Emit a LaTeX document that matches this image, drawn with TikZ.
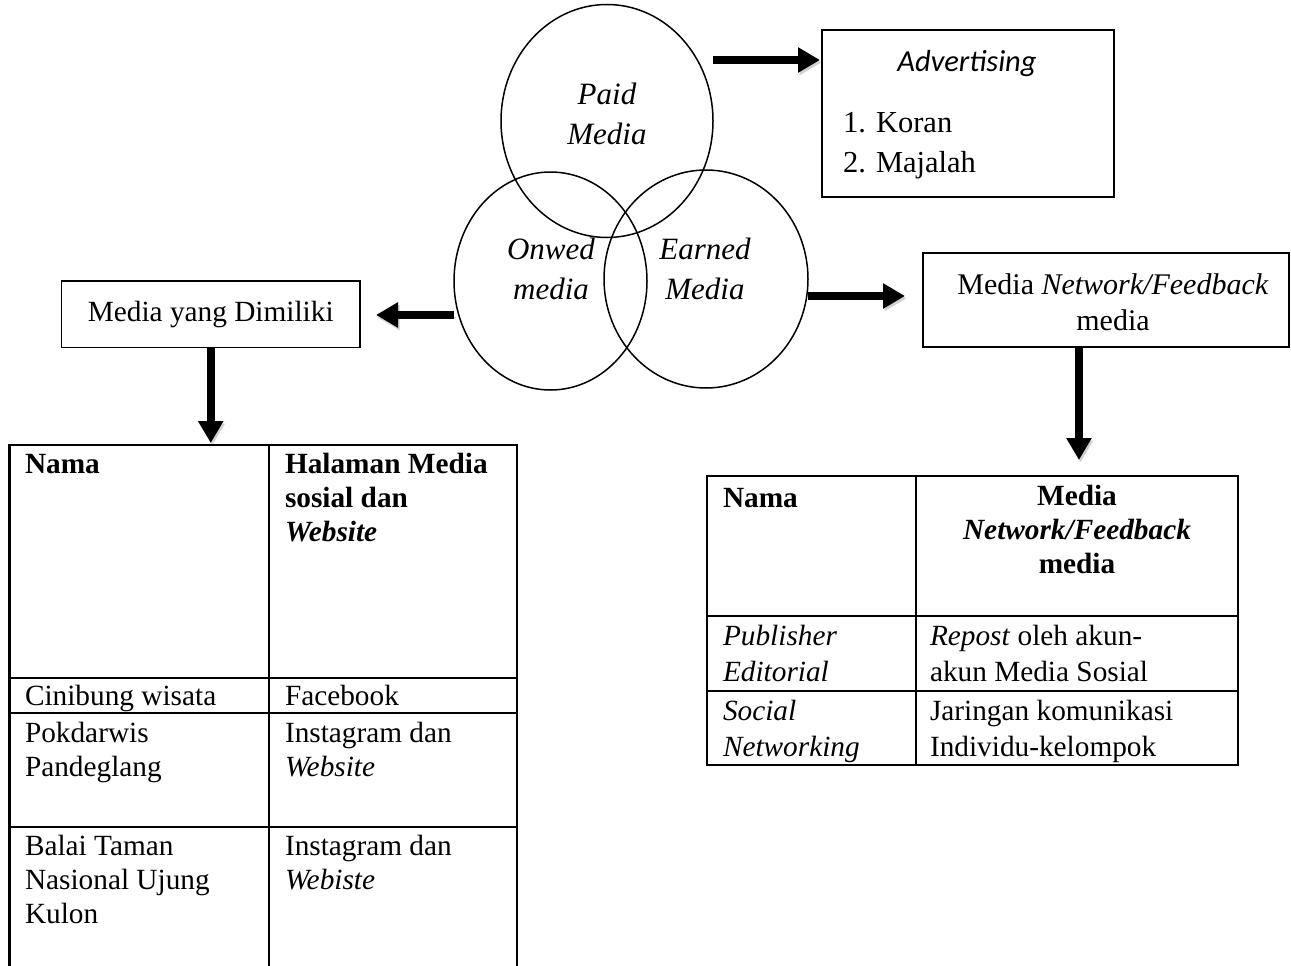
\documentclass[tikz,border=0pt]{standalone}
\usepackage{fontspec}
\setmainfont{Liberation Serif}
\newfontfamily\adfont{Carlito}
\usetikzlibrary{arrows.meta,shapes.geometric}
% stacked lines inside one node; the node's baseline is the first line's
\newcommand\rowsL[1]{\vtop{\halign{##\hfil\cr#1\crcr}}}
\newcommand\rowsC[1]{\vtop{\halign{\hfil##\hfil\cr#1\crcr}}}

\begin{document}
\begin{tikzpicture}[x=1pt,y=-1pt,
  every node/.style={inner sep=0pt, outer sep=0pt, font=\fontsize{29.3}{34}\selectfont},
  ring/.style={draw, ellipse, line width=1.5pt},
  frame/.style={draw, line width=1.8pt},
  ringtext/.style={anchor=base, font=\fontsize{31}{40}\selectfont\itshape},
  bigarrow/.style={line width=8.5pt, -{Triangle[length=22pt,width=24pt]},
    preaction={draw=black!40, opacity=0.45, transform canvas={shift={(1.5pt,-2.5pt)}}}},
  grid/.style={line width=2.6pt},
  cell/.style={anchor=base west},
  widecell/.style={anchor=base west, font=\fontsize{29.3}{36}\selectfont},
]
\useasboundingbox (0,0) rectangle (1291,966);

% the three overlapping media circles
\node[ring, minimum width=212pt, minimum height=233pt] (paid) at (607,121) {};
\node[ring, minimum width=193pt, minimum height=218pt] (owned) at (550.5,281) {};
\node[ring, minimum width=204pt, minimum height=218pt] (earned) at (706,279) {};
\node[ringtext] (paidlbl) at (607,104) {\rowsC{Paid\cr Media}};
\node[ringtext] (ownedlbl) at (551,259) {\rowsC{Onwed\cr media}};
\node[ringtext] (earnedlbl) at (705,259) {\rowsC{Earned\cr Media}};

% advertising box
\node[frame, minimum width=292pt, minimum height=167pt] (adv) at (968,113.5) {};
\node[anchor=base, font=\adfont\itshape\fontsize{30.5}{34}\selectfont] (advtitle) at (967,72) {Advertising};
\node[anchor=base west, font=\fontsize{30.5}{40}\selectfont] (adv1) at (843,132) {1. Koran};
\node[anchor=base west, font=\fontsize{30.5}{40}\selectfont] (adv2) at (843,172) {2. Majalah};

% owned media box
\node[frame, minimum width=298.5pt, minimum height=66.5pt] (mine) at (210.75,314.25) {Media yang Dimiliki};

% earned media box (runs off the right edge)
\node[frame, minimum width=366pt, minimum height=94pt] (net) at (1106,300) {};
\node[anchor=base, font=\fontsize{30}{36}\selectfont] (net1) at (1113,294) {Media \textit{Network/Feedback}};
\node[anchor=base, font=\fontsize{30}{36}\selectfont] (net2) at (1113,330) {media};

% arrow anchors
\coordinate (p1) at (713,60);
\coordinate (o1) at (454,315);
\coordinate (e1) at (808,296);
\coordinate (n1) at (1079,347);
\coordinate (tl) at (263,445);
\coordinate (tr) at (1077,476);

\draw[bigarrow, shorten >=2pt] (p1) -- (p1 -| adv.west);
\draw[bigarrow, shorten >=16pt] (o1) -- (o1 -| mine.east);
\draw[bigarrow, shorten >=18pt] (e1) -- (e1 -| net.west);
\draw[bigarrow, shorten >=2pt] (mine.south) -- (mine.south |- tl);
\draw[bigarrow, shorten >=16pt] (n1) -- (n1 |- tr);

% left table
\draw[grid] (9.5,970) -- (9.5,445) -- (517,445) -- (517,970);
\draw[grid] (269,445) -- (269,970);
\draw[grid] (9.5,678) -- (517,678);
\draw[grid] (9.5,713) -- (517,713);
\draw[grid] (9.5,827) -- (517,827);

\node[cell] (lh1) at (25,473) {\textbf{Nama}};
\node[cell] (lh2) at (285,473) {\rowsL{\textbf{Halaman Media}\cr \textbf{sosial dan}\cr \textbf{\textit{Website}}}};
\node[cell] (l1a) at (25,705) {Cinibung wisata};
\node[cell] (l1b) at (285,705) {Facebook};
\node[cell] (l2a) at (25,742) {\rowsL{Pokdarwis\cr Pandeglang}};
\node[cell] (l2b) at (285,742) {\rowsL{Instagram dan\cr \textit{Website}}};
\node[cell] (l3a) at (25,855) {\rowsL{Balai Taman\cr Nasional Ujung\cr Kulon}};
\node[cell] (l3b) at (285,855) {\rowsL{Instagram dan\cr \textit{Webiste}}};

% right table
\draw[grid] (707,476) rectangle (1238,765);
\draw[grid] (916,476) -- (916,765);
\draw[grid] (707,616) -- (1238,616);
\draw[grid] (707,691) -- (1238,691);

\node[cell] (rh1) at (723,507) {\textbf{Nama}};
\node[anchor=base] (rh2) at (1077,505) {\rowsC{\textbf{Media}\cr \textbf{\textit{Network/Feedback}}\cr \textbf{media}}};
\node[widecell] (r1a) at (723,645) {\rowsL{\textit{Publisher}\cr \textit{Editorial}}};
\node[widecell] (r1b) at (930,645) {\rowsL{\textit{Repost} oleh akun-\cr akun Media Sosial}};
\node[widecell] (r2a) at (723,720) {\rowsL{\textit{Social}\cr \textit{Networking}}};
\node[widecell] (r2b) at (930,720) {\rowsL{Jaringan komunikasi\cr Individu-kelompok}};
\end{tikzpicture}
\end{document}
